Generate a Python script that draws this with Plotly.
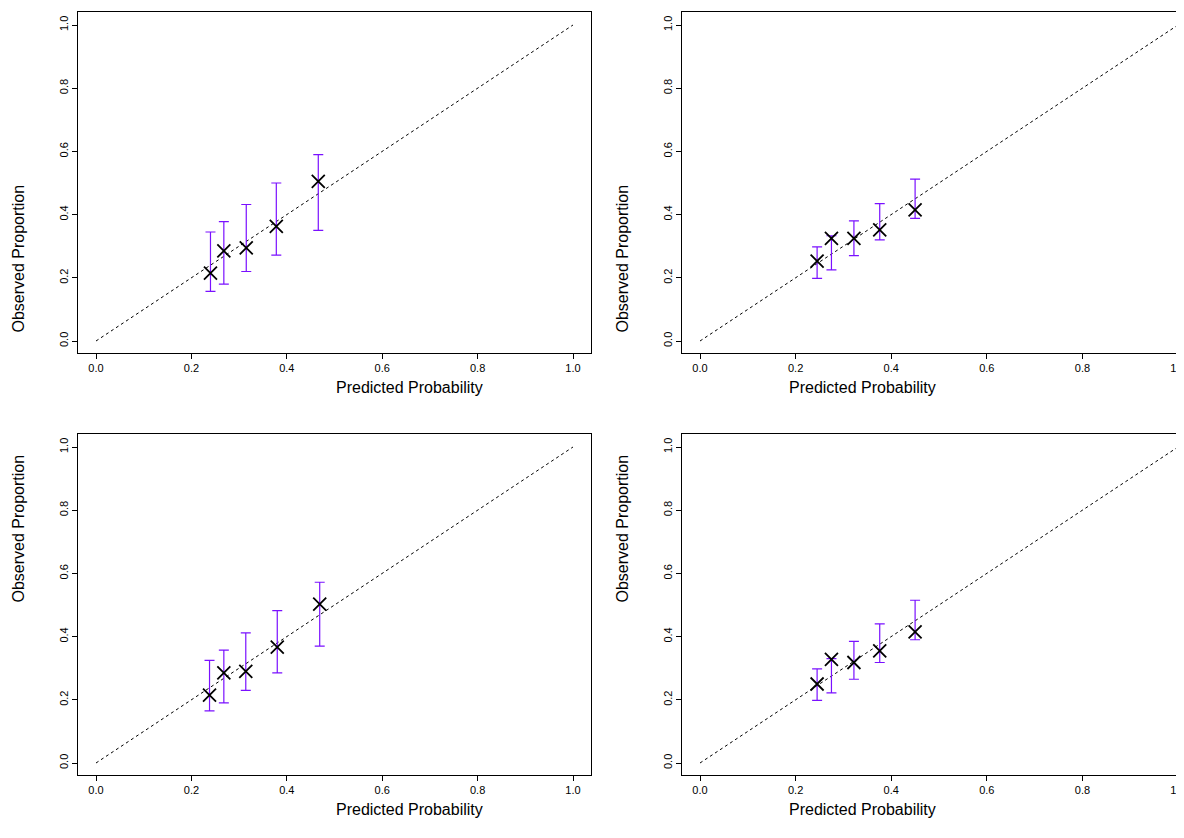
import plotly.graph_objects as go

W, H = 1184, 838
OFF = 8  # page body margin in the browser

# calibration data, one panel per list entry (top-left, top-right, bottom-left, bottom-right)
pred = [
    [0.240, 0.268, 0.315, 0.378, 0.466],
    [0.245, 0.275, 0.322, 0.376, 0.450],
    [0.238, 0.268, 0.314, 0.380, 0.469],
    [0.245, 0.275, 0.322, 0.376, 0.450],
]
obs = [
    [0.215, 0.285, 0.295, 0.363, 0.505],
    [0.253, 0.325, 0.325, 0.352, 0.415],
    [0.215, 0.285, 0.290, 0.367, 0.503],
    [0.250, 0.328, 0.318, 0.355, 0.415],
]
lower = [
    [0.157, 0.180, 0.220, 0.272, 0.350],
    [0.198, 0.225, 0.270, 0.320, 0.388],
    [0.165, 0.190, 0.230, 0.285, 0.370],
    [0.198, 0.222, 0.265, 0.318, 0.390],
]
upper = [
    [0.345, 0.378, 0.432, 0.500, 0.590],
    [0.298, 0.333, 0.380, 0.435, 0.512],
    [0.325, 0.357, 0.412, 0.482, 0.572],
    [0.298, 0.330, 0.385, 0.440, 0.515],
]
ticks = [0.0, 0.2, 0.4, 0.6, 0.8, 1.0]

# panel boxes in screen pixels: (left, right, top, bottom), plus pixel of value 0 / 1
panels = [
    dict(l=78, r=591, t=12, b=353, x0=96, x1=573, y0=341, y1=25),
    dict(l=682, r=1192, t=12, b=353, x0=700, x1=1178, y0=341, y1=25),
    dict(l=78, r=591, t=434, b=775, x0=96, x1=573, y0=763, y1=447),
    dict(l=682, r=1192, t=434, b=775, x0=700, x1=1178, y0=763, y1=447),
]
titlex = [334, 938, 334, 938]

fig = go.Figure()
font = "Liberation Sans, Arial, sans-serif"

for i, p in enumerate(panels):
    n = "" if i == 0 else str(i + 1)
    xs = (p["x1"] - p["x0"])
    ys = (p["y0"] - p["y1"])
    xr = [(p["l"] - p["x0"]) / xs, (p["r"] - p["x0"]) / xs]
    yr = [(p["y0"] - p["b"]) / ys, (p["y0"] - p["t"]) / ys]
    ax = dict(showgrid=False, zeroline=False, showline=True, mirror=True,
              linecolor="black", linewidth=1, ticks="outside", ticklen=5,
              tickcolor="black", tickvals=ticks, ticktext=[f"{t:.1f}" for t in ticks],
              tickfont=dict(size=11, color="black", family=font))
    fig.layout["xaxis" + n] = dict(ax, range=xr, anchor="y" + n,
                                   domain=[(p["l"] - OFF) / W, (p["r"] - OFF) / W])
    fig.layout["yaxis" + n] = dict(ax, range=yr, anchor="x" + n, tickangle=-90,
                                   domain=[1 - (p["b"] - OFF) / H, 1 - (p["t"] - OFF) / H])
    fig.add_trace(go.Scatter(x=[0, 1], y=[0, 1], mode="lines",
                             line=dict(color="black", width=1, dash="dot"),
                             xaxis="x" + n, yaxis="y" + n))
    fig.add_trace(go.Scatter(
        x=pred[i], y=obs[i], mode="markers", xaxis="x" + n, yaxis="y" + n,
        marker=dict(symbol="x-thin", size=13, line=dict(color="black", width=1.8)),
        error_y=dict(type="data", symmetric=False,
                     array=[u - o for u, o in zip(upper[i], obs[i])],
                     arrayminus=[o - l for o, l in zip(obs[i], lower[i])],
                     color="#7a10ff", thickness=1.2, width=5)))
    fig.add_annotation(text="Predicted Probability", xref="paper", yref="paper",
                       x=(titlex[i] - OFF) / W, y=1 - (p["b"] + 34 - OFF) / H,
                       showarrow=False, yanchor="middle",
                       font=dict(size=16, color="black", family=font))
    fig.add_annotation(text="Observed Proportion", xref="paper", yref="paper",
                       x=(p["l"] - 60 - OFF) / W, y=1 - ((p["t"] + p["b"]) / 2 - OFF) / H,
                       textangle=-90, showarrow=False, xanchor="center",
                       font=dict(size=16, color="black", family=font))

fig.update_layout(width=W, height=H, margin=dict(l=0, r=0, t=0, b=0),
                  showlegend=False, plot_bgcolor="white", paper_bgcolor="white")

fig.write_html("out.html")
